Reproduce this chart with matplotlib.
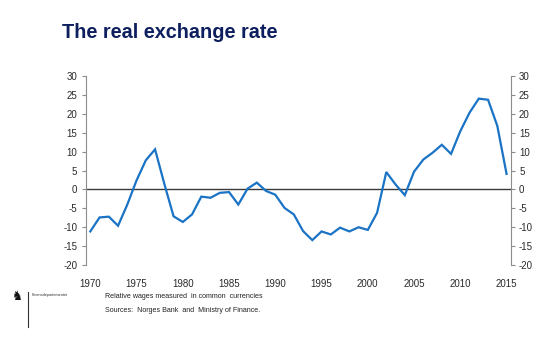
import matplotlib
matplotlib.use("Agg")
import matplotlib.pyplot as plt

years = list(range(1970, 2016))
real_rate = [
    -11.1, -7.4, -7.2, -9.6, -4.0, 2.4, 7.7, 10.6, 1.5, -7.1,
    -8.6, -6.6, -1.9, -2.2, -0.9, -0.7, -4.0, 0.2, 1.8, -0.4,
    -1.4, -4.9, -6.6, -11.0, -13.4, -11.1, -11.9, -10.1, -11.1, -10.0,
    -10.7, -6.2, 4.6, 1.3, -1.5, 4.7, 7.9, 9.7, 11.8, 9.4,
    15.4, 20.3, 24.0, 23.7, 16.8, 4.1,
]
y_ticks = [30, 25, 20, 15, 10, 5, 0, -5, -10, -15, -20]
x_ticks = [1970, 1975, 1980, 1985, 1990, 1995, 2000, 2005, 2010, 2015]

title = "The real exchange rate"
notes = ["Relative wages measured  in common  currencies",
         "Sources:  Norges Bank  and  Ministry of Finance."]

plt.rcParams["font.family"] = ["Liberation Sans", "DejaVu Sans"]

fig = plt.figure(figsize=(5.6, 3.39), dpi=100)
ax = fig.add_axes([0.153, 0.218, 0.759, 0.558])

ax.plot(years, real_rate, color="#1a73c5", lw=1.6, solid_joinstyle="miter", zorder=3)
ax.axhline(0, color="#3a3a3a", lw=1.0, zorder=2)

ax.set_xlim(1969.5, 2015.45)
ax.set_ylim(-20, 30)

for side in ["top", "bottom"]:
    ax.spines[side].set_visible(False)
for side in ["left", "right"]:
    ax.spines[side].set_color("#8c8c8c")
    ax.spines[side].set_linewidth(0.8)

ax.set_yticks(y_ticks)
ax.set_yticklabels([str(v) for v in y_ticks])
ax.set_xticks(x_ticks)
ax.set_xticklabels([str(v) for v in x_ticks])
ax.tick_params(axis="y", which="both", left=True, right=True, labelleft=True,
               labelright=True, direction="out", length=3, width=0.8,
               color="#8c8c8c", labelsize=7, labelcolor="#2a2a2a", pad=3)
ax.tick_params(axis="x", length=0, labelsize=7, labelcolor="#2a2a2a", pad=10)

fig.text(62 / 560, 1 - 33 / 339, title, fontsize=14.3, fontweight="bold",
         color="#0d1f5e", ha="left", va="center")

# footer: emblem, divider and ministry name
fig.text(17 / 560, 1 - 297 / 339, "\u265e", family="DejaVu Sans", fontsize=9,
         color="#111111", ha="center", va="center")
fig.add_artist(plt.Line2D([28 / 560, 28 / 560], [1 - 292 / 339, 1 - 327 / 339],
                          color="#333333", lw=0.8, transform=fig.transFigure))
fig.text(32 / 560, 1 - 295 / 339, "Finansdepartementet", fontsize=2.8,
         color="#333333", ha="left", va="center")

fig.text(105 / 560, 1 - 297 / 339, notes[0], fontsize=5.1, color="#222222",
         ha="left", va="center")
fig.text(105 / 560, 1 - 310 / 339, notes[1], fontsize=5.1, color="#222222",
         ha="left", va="center")

fig.savefig("out.png", dpi=100, facecolor="white")
